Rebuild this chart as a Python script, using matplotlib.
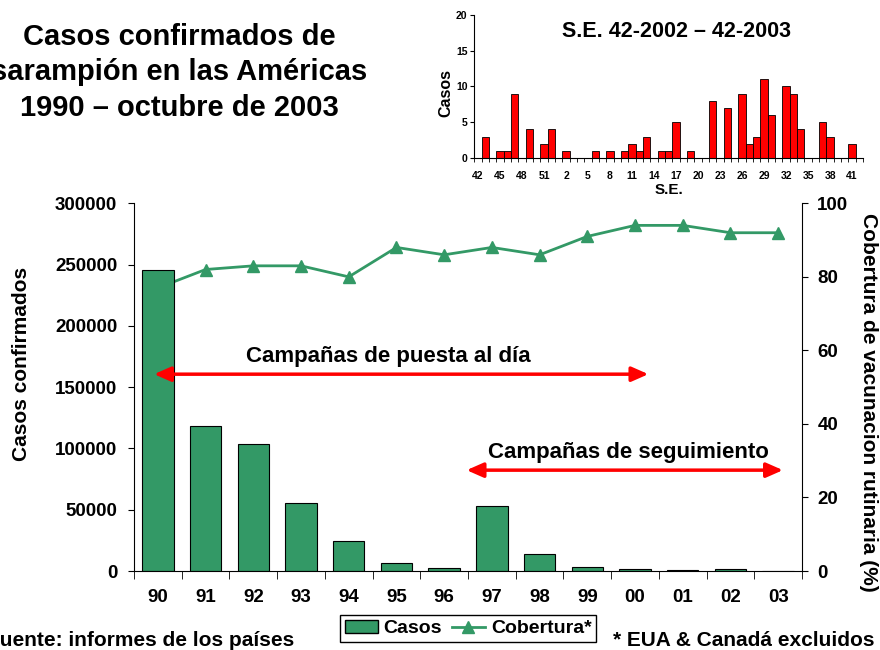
import matplotlib.pyplot as plt
from matplotlib.lines import Line2D
from matplotlib.patches import Patch
from matplotlib.ticker import StrMethodFormatter

plt.rcParams['font.family'] = ['Liberation Sans', 'DejaVu Sans']
plt.rcParams['font.weight'] = 'bold'
plt.rcParams['axes.labelweight'] = 'bold'

# main chart data (1990 - 2003)
anios = ['90', '91', '92', '93', '94', '95', '96', '97', '98', '99', '00', '01', '02', '03']
casos = [246000, 118000, 103300, 55700, 24500, 6300, 2100, 53200, 13900, 3000, 1750, 540, 2000, 100]
cobertura = [77, 82, 83, 83, 80, 88, 86, 88, 86, 91, 94, 94, 92, 92]

# inset data: epidemiological weeks 42-2002 .. 42-2003
semanas = [42, 43, 44, 45, 46, 47, 48, 49, 50, 51, 52,
           1, 2, 3, 4, 5, 6, 7, 8, 9, 10, 11, 12, 13, 14, 15, 16, 17, 18, 19, 20,
           21, 22, 23, 24, 25, 26, 27, 28, 29, 30, 31, 32, 33, 34, 35, 36, 37, 38,
           39, 40, 41, 42]
casos_semana = [0, 3, 0, 1, 1, 9, 0, 4, 0, 2, 4,
                0, 1, 0, 0, 0, 1, 0, 1, 0, 1, 2, 1, 3, 0, 1, 1, 5, 0, 1, 0,
                0, 8, 0, 7, 0, 9, 2, 3, 11, 6, 0, 10, 9, 4, 0, 0, 5, 3,
                0, 0, 2, 0]

VERDE = '#339966'

fig = plt.figure(figsize=(8.8, 6.5), dpi=100)

# ---- main chart ----
ax = fig.add_axes([0.1523, 0.1215, 0.7591, 0.5657])
ax2 = ax.twinx()
ax.set_zorder(ax2.get_zorder() + 1)  # bars in front of the line
ax.patch.set_visible(False)

x = list(range(len(anios)))
ax.bar(x, casos, width=0.66, color=VERDE, edgecolor='black', linewidth=0.8)
ax2.plot(x, cobertura, color=VERDE, lw=2, marker='^', ms=9)

ax.set_xlim(-0.5, len(anios) - 0.5)
ax.set_ylim(0, 300000)
ax.set_yticks(range(0, 300001, 50000))
ax.yaxis.set_major_formatter(StrMethodFormatter('{x:.0f}'))
ax.set_xticks(x, anios)
ax.set_xticks([i - 0.5 for i in range(len(anios) + 1)], minor=True)
ax.tick_params(axis='x', which='major', length=0, pad=13, labelsize=13.5)
ax.tick_params(axis='x', which='minor', length=6)
ax.tick_params(axis='y', length=4, pad=8, labelsize=13.5)
ax.spines[['top', 'right']].set_visible(False)

ax2.set_ylim(0, 100)
ax2.set_yticks(range(0, 101, 20))
ax2.tick_params(axis='y', length=4, pad=7, labelsize=13.5)
ax2.spines[['top', 'left', 'bottom']].set_visible(False)

ax.set_ylabel('Casos confirmados', fontsize=15, va='center', ha='center')
ax.yaxis.set_label_coords(-0.169, 0.563)
ax2.set_ylabel('Cobertura de vacunacion rutinaria (%)', fontsize=15, rotation=270,
               va='center', ha='center')
ax2.yaxis.set_label_coords(1.1, 0.458)

# campaign arrows
flecha = dict(arrowstyle='<|-|>,head_length=0.5,head_width=0.22', color='red',
              lw=2.5, shrinkA=0, shrinkB=0, mutation_scale=20)
ax.annotate('', xy=(-0.08, 160600), xytext=(10.28, 160600), arrowprops=flecha)
ax.annotate('', xy=(6.47, 82300), xytext=(13.1, 82300), arrowprops=flecha)
ax.text(4.82, 175400, 'Campañas de puesta al día', ha='center', va='center', fontsize=16)
ax.text(9.86, 97100, 'Campañas de seguimiento', ha='center', va='center', fontsize=16)

handles = [Patch(facecolor=VERDE, edgecolor='black'),
           Line2D([], [], color=VERDE, lw=2, marker='^', ms=9)]
leg = fig.legend(handles, ['Casos', 'Cobertura*'], loc='center',
                 bbox_to_anchor=(0.532, 0.033), ncol=2, fontsize=14,
                 fancybox=False, edgecolor='black', framealpha=1,
                 borderpad=0.25, handlelength=1.7, handletextpad=0.3,
                 columnspacing=0.5, borderaxespad=0)
leg.get_frame().set_linewidth(1)

# ---- texts ----
fig.text(179 / 880, 1 - 72.5 / 650,
         'Casos confirmados de\nsarampión en las Américas\n1990 – octubre de 2003',
         ha='center', va='center', fontsize=21, linespacing=1.36)
fig.text(-13 / 880, 1 - 640 / 650, 'Fuente: informes de los países',
         ha='left', va='center', fontsize=15)
fig.text(613 / 880, 1 - 640 / 650, '* EUA & Canadá excluidos',
         ha='left', va='center', fontsize=15)

# ---- inset: weekly cases ----
axi = fig.add_axes([0.539, 0.7569, 0.4418, 0.2205])
xs = list(range(len(semanas)))
axi.bar(xs, casos_semana, width=1.0, color='red', edgecolor='black', linewidth=0.6)
axi.set_xlim(-0.5, len(semanas) - 0.5)
axi.set_ylim(0, 20)
axi.set_yticks([0, 5, 10, 15, 20])
axi.set_xticks(xs[::3], [str(s) for s in semanas[::3]])
axi.set_xticks([i + 0.5 for i in range(-1, len(semanas))], minor=True)
axi.tick_params(axis='x', which='major', length=0, pad=9, labelsize=7.5)
axi.tick_params(axis='x', which='minor', length=3)
axi.tick_params(axis='y', length=3, pad=2, labelsize=7.5)
axi.spines[['top', 'right']].set_visible(False)
axi.set_xlabel('S.E.', fontsize=11, labelpad=2)
axi.set_ylabel('Casos', fontsize=11.5, va='center', ha='center')
axi.yaxis.set_label_coords(-0.073, 0.457)
fig.text(0.769, 0.951, 'S.E. 42-2002 – 42-2003', ha='center', va='center', fontsize=15.5)

fig.savefig('out.png', dpi=100)
